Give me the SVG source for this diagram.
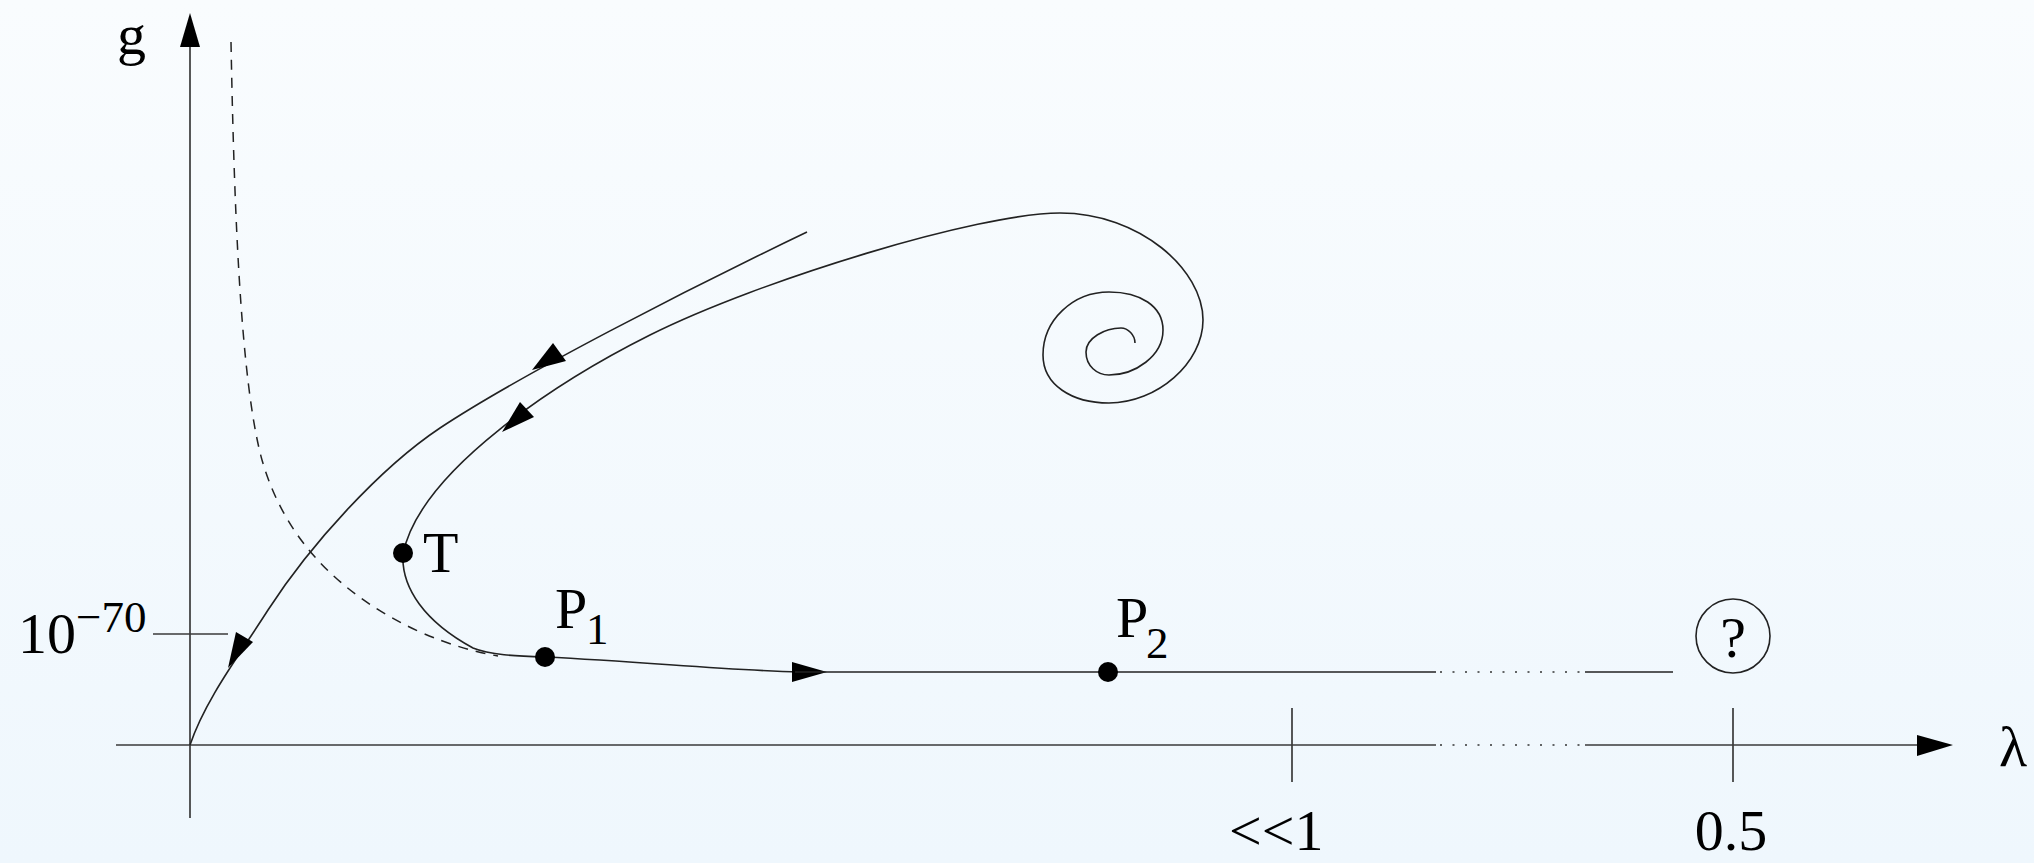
<svg xmlns="http://www.w3.org/2000/svg" width="2034" height="863" viewBox="0 0 2034 863">
  <defs>
    <linearGradient id="bg" x1="0" y1="0" x2="0" y2="1">
      <stop offset="0" stop-color="#f9fcfe"/>
      <stop offset="1" stop-color="#eff7fd"/>
    </linearGradient>
    <style>
      .ax { fill: none; stroke: #3a3a3a; stroke-width: 1.7; }
      .cv { fill: none; stroke: #222; stroke-width: 1.6; }
      .dash { fill: none; stroke: #222; stroke-width: 1.5; stroke-dasharray: 10 8; }
      .dot { fill: none; stroke: #333; stroke-width: 1.6; stroke-dasharray: 2 10.5; }
      .head { fill: #000; stroke: none; }
      .pt { fill: #000; }
      .lbl { font-family: "Liberation Serif", "Times New Roman", serif; font-size: 58px; fill: #000; }
      .sub { font-size: 45px; }
    </style>
  </defs>
  <rect x="0" y="0" width="2034" height="863" fill="url(#bg)"/>

  <g id="connectors">
    <!-- axes -->
    <line class="ax" x1="190" y1="45" x2="190" y2="818"/>
    <polygon class="head" points="190,13 180,47 200,47"/>
    <line class="ax" x1="116" y1="745" x2="1436" y2="745"/>
    <line class="dot" x1="1440" y1="745" x2="1585" y2="745"/>
    <line class="ax" x1="1585" y1="745" x2="1920" y2="745"/>
    <polygon class="head" points="1953,745 1917,735 1917,756"/>
    <!-- ticks -->
    <line class="ax" x1="1292" y1="708" x2="1292" y2="782" stroke-width="1.3"/>
    <line class="ax" x1="1733" y1="708" x2="1733" y2="782" stroke-width="1.3"/>
    <line class="ax" x1="153" y1="634" x2="228" y2="634" stroke-width="1.3"/>

    <!-- dashed separatrix -->
    <path class="dash" d="M 231,42 C 234,200 240,380 262,460 C 285,540 340,595 420,632 C 450,645 475,652 498,656"/>

    <!-- curve A: from upper right down to origin -->
    <path class="cv" d="M 807,232 C 690,288 520,375 440,428 C 380,468 310,545 268,610 C 240,654 205,700 190,745"/>
    <polygon class="head" points="228,668 253,642 236,632"/>
    <polygon class="head" points="532,370 566,361 553,343"/>

    <!-- curve B: spiral out, sweep left, through T and P1 -->
    <path class="cv" d="M 1135,343 C 1135,335 1128,328 1121,328 C 1105,328 1086,338 1086,352 C 1086,366 1097,375 1109,375 C 1135,375 1163,356 1163,330 C 1163,306 1140,292 1109,292 C 1073,292 1043,320 1043,355 C 1043,385 1072,403 1109,403 C 1157,403 1203,363 1203,320 C 1203,270 1140,213 1060,213 C 980,213 760,280 650,335 C 560,380 420,470 403,554 C 401,588 425,622 473,648 C 490,655 515,656 545,657 C 650,662 720,670 800,672"/>
    <polygon class="head" points="502,432 534,417 520,402"/>
    <polygon class="head" points="827,672 792,662 792,682"/>

    <!-- horizontal branch -->
    <line class="cv" x1="795" y1="672" x2="1436" y2="672"/>
    <line class="dot" x1="1440" y1="672" x2="1585" y2="672"/>
    <line class="cv" x1="1585" y1="672" x2="1673" y2="672"/>
  </g>

  <g id="axis-labels">
    <text class="lbl" x="117" y="54">g</text>
    <text class="lbl" x="1999" y="766">λ</text>
    <text class="lbl" x="18" y="653">10<tspan class="sub" x="76" y="632">−70</tspan></text>
    <text class="lbl" x="1229" y="850">&lt;&lt;1</text>
    <text class="lbl" x="1731" y="850" text-anchor="middle">0.5</text>
  </g>

  <g id="node-T">
    <circle class="pt" cx="403" cy="553" r="10"/>
    <text class="lbl" x="423" y="572">T</text>
  </g>

  <g id="node-P1">
    <circle class="pt" cx="545" cy="657" r="10"/>
    <text class="lbl" x="555" y="628">P<tspan class="sub" x="586" y="644">1</tspan></text>
  </g>

  <g id="node-P2">
    <circle class="pt" cx="1108" cy="672" r="10"/>
    <text class="lbl" x="1116" y="637">P<tspan class="sub" x="1146" y="658">2</tspan></text>
  </g>

  <g id="node-unknown">
    <circle cx="1733" cy="636" r="37" fill="none" stroke="#222" stroke-width="1.6"/>
    <text class="lbl" x="1733" y="657" text-anchor="middle">?</text>
  </g>
</svg>
